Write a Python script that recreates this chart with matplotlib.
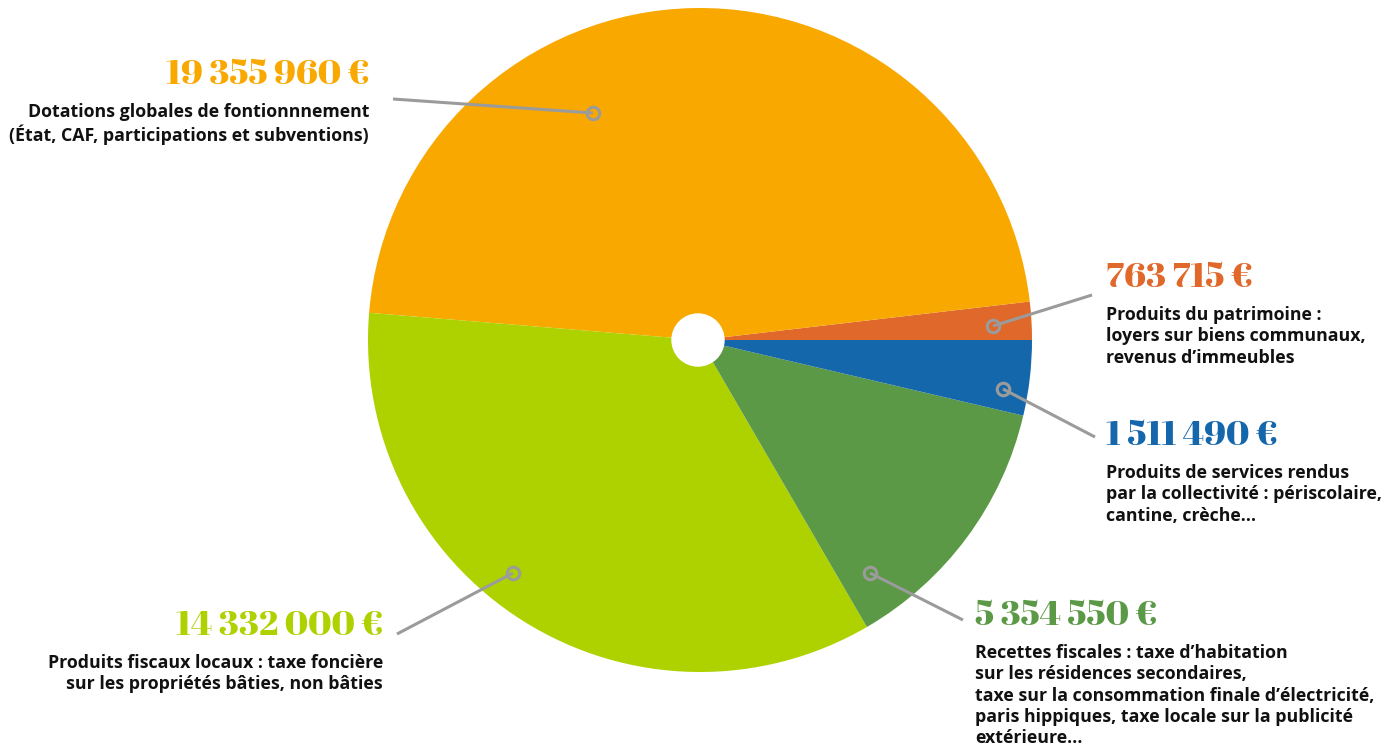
import matplotlib
matplotlib.use("Agg")
import matplotlib.pyplot as plt

W, H = 1400, 749

# data (counter-clockwise from the 3 o'clock position)
categories = ["Produits du patrimoine", "Dotations globales", "Produits fiscaux locaux",
              "Recettes fiscales", "Produits de services rendus"]
values = [763715, 19355960, 14332000, 5354550, 1511490]
value_labels = ["763 715 €", "19 355 960 €", "14 332 000 €", "5 354 550 €", "1 511 490 €"]
descriptions = [
    "Produits du patrimoine :\nloyers sur biens communaux,\nrevenus d\u2019immeubles",
    "Dotations globales de fontionnnement\n(État, CAF, participations et subventions)",
    "Produits fiscaux locaux : taxe foncière\nsur les propriétés bâties, non bâties",
    "Recettes fiscales : taxe d\u2019habitation\nsur les résidences secondaires,\n"
    "taxe sur la consommation finale d\u2019électricité,\nparis hippiques, taxe locale sur la publicité\nextérieure\u2026",
    "Produits de services rendus\npar la collectivité : périscolaire,\ncantine, crèche\u2026",
]
colors = ["#E0682B", "#F9A800", "#AED100", "#5C9946", "#1567AC"]

# label layout in pixel coords (x, y from top): marker, line end, text anchor, alignment
markers = [(993, 326), (593, 113), (513, 573), (870, 573), (1003, 389)]
line_ends = [(1092, 295), (393, 99), (397, 634), (963, 620), (1095, 437)]
text_pos = [(1106, 278), (369, 75), (383, 626), (975, 616), (1106, 436)]
aligns = ["left", "right", "right", "left", "left"]

fig = plt.figure(figsize=(W / 100, H / 100), dpi=100)
ax = fig.add_axes([0, 0, 1, 1])

cx, cy, r = 700, 340, 332
ax.pie(values, colors=colors, startangle=0, counterclock=True,
       center=(cx, H - cy), radius=r, wedgeprops=dict(linewidth=0))
ax.add_patch(plt.Circle((cx - 2, H - cy), 26, color="white", zorder=5))

for i in range(len(values)):
    mx, my = markers[i]
    lx, ly = line_ends[i]
    ax.plot([mx, lx], [H - my, H - ly], color="#9B9B9B", lw=2.2, zorder=6,
            solid_capstyle="butt")
    ax.plot(mx, H - my, "o", ms=9, mfc="none", mec="#9B9B9B", mew=2.2, zorder=7)
    tx, ty = text_pos[i]
    ax.text(tx, H - ty, value_labels[i], ha=aligns[i], va="center",
            fontsize=25.5, family="Abril Fatface", color=colors[i])
    ax.text(tx, H - ty - 28, descriptions[i], ha=aligns[i], va="top",
            fontsize=12.8, fontweight="bold", family="Open Sans",
            color="#111111", linespacing=1.24, multialignment=aligns[i])

ax.set_xlim(0, W)
ax.set_ylim(0, H)
ax.set_aspect("equal")
ax.axis("off")

fig.savefig("out.png", dpi=100)
